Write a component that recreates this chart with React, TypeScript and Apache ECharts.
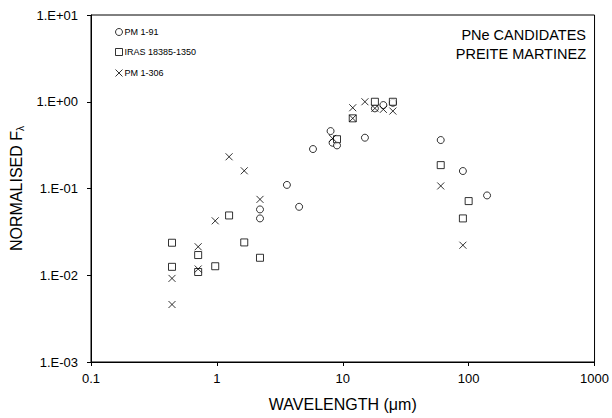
import React, { useEffect, useRef } from "react";
import * as echarts from "echarts";

const pm191X = [2.2, 2.2, 3.6, 4.5, 5.8, 8.0, 8.3, 9.0, 15, 18, 21, 25, 60, 90, 140];
const pm191Y = [0.0574, 0.0452, 0.11, 0.0615, 0.285, 0.459, 0.337, 0.314, 0.385, 0.839, 0.916, 0.973, 0.362, 0.159, 0.0832];

const irasX = [0.44, 0.44, 0.71, 0.71, 0.97, 1.25, 1.65, 2.2, 9.0, 12, 18, 25, 60, 90, 100];
const irasY = [0.0237, 0.0125, 0.0171, 0.0109, 0.0127, 0.0489, 0.0239, 0.0159, 0.37, 0.644, 1.0, 1.0, 0.186, 0.0452, 0.0716];

const pm1306X = [0.44, 0.44, 0.71, 0.71, 0.97, 1.25, 1.65, 2.2, 8.3, 12, 12, 15, 18, 21, 25, 60, 90];
const pm1306Y = [0.0092, 0.0046, 0.0213, 0.0118, 0.0424, 0.232, 0.16, 0.0749, 0.378, 0.853, 0.644, 1.0, 0.84, 0.817, 0.781, 0.107, 0.0222];

const seriesNames = ["PM 1-91", "IRAS 18385-1350", "PM 1-306"];
const titleLines = ["PNe CANDIDATES", "PREITE MARTINEZ"];

const zip = (xs: number[], ys: number[]) => xs.map((x, i) => [x, ys[i]]);

const FONT = "'Liberation Sans', Arial, sans-serif";
const CROSS = "path://M0,0L10,10M10,0L0,10";

export default function App() {
  const ref = useRef<HTMLDivElement>(null);
  useEffect(() => {
    document.body.style.margin = "0";
    const chart = echarts.init(ref.current!, null, { renderer: "svg" });
    const yFmt = (v: number) => {
      const e = Math.round(Math.log10(v));
      return "1.E" + (e < 0 ? "-" : "+") + String(Math.abs(e)).padStart(2, "0");
    };
    const xFmt = (v: number) => {
      const e = Math.round(Math.log10(v));
      return e < 0 ? "0.1" : String(Math.pow(10, e));
    };
    const hollow = { color: "#fff", borderColor: "#000", borderWidth: 1 };
    chart.setOption({
      animation: false,
      backgroundColor: "#fff",
      textStyle: { fontFamily: FONT },
      grid: {
        left: 91,
        right: 16,
        top: 15,
        bottom: 56,
        show: true,
        borderColor: "#000",
        borderWidth: 1,
        backgroundColor: "transparent",
      },
      legend: {
        orient: "vertical",
        left: 108,
        top: 22,
        itemWidth: 7,
        itemHeight: 7,
        itemGap: 10,
        data: seriesNames,
        itemStyle: { borderWidth: 1 },
        textStyle: { fontSize: 9, color: "#000", fontFamily: FONT, lineHeight: 10, padding: [0, 0, 0, -3] },
      },
      graphic: [
        {
          type: "text",
          x: 586,
          y: 25,
          style: {
            text: titleLines.join("\n"),
            align: "right",
            verticalAlign: "top",
            fontSize: 14.5,
            lineHeight: 19,
            fontFamily: FONT,
            fill: "#000",
          },
        },
      ],
      xAxis: {
        type: "log",
        logBase: 10,
        min: 0.1,
        max: 1000,
        name: "WAVELENGTH (μm)",
        nameLocation: "middle",
        nameGap: 34,
        nameTextStyle: { fontSize: 16, color: "#000", fontFamily: FONT },
        axisLine: { lineStyle: { color: "#000", width: 1 } },
        axisTick: { show: true, length: 4, lineStyle: { color: "#000" } },
        minorTick: { show: false },
        splitLine: { show: false },
        axisLabel: { fontSize: 13, color: "#000", margin: 10, formatter: xFmt, fontFamily: FONT },
      },
      yAxis: {
        type: "log",
        logBase: 10,
        min: 0.001,
        max: 10,
        name: "NORMALISED F{s|λ}",
        nameLocation: "middle",
        nameGap: 66,
        nameRotate: 90,
        nameTextStyle: {
          fontSize: 16,
          color: "#000",
          fontFamily: FONT,
          rich: { s: { fontSize: 10, color: "#000", fontFamily: FONT, verticalAlign: "bottom", padding: [7, 0, 0, 0] } },
        },
        axisLine: { show: true, lineStyle: { color: "#000", width: 1 } },
        axisTick: { show: true, length: 4, lineStyle: { color: "#000" } },
        splitLine: { show: false },
        axisLabel: { fontSize: 13, color: "#000", margin: 13, formatter: yFmt, fontFamily: FONT },
      },
      series: [
        {
          name: seriesNames[0],
          type: "scatter",
          symbol: "circle",
          symbolSize: 7,
          itemStyle: hollow,
          data: zip(pm191X, pm191Y),
        },
        {
          name: seriesNames[1],
          type: "scatter",
          symbol: "rect",
          symbolSize: 7,
          itemStyle: hollow,
          data: zip(irasX, irasY),
        },
        {
          name: seriesNames[2],
          type: "scatter",
          symbol: CROSS,
          symbolSize: 7,
          itemStyle: { color: "none", borderColor: "#000", borderWidth: 1 },
          data: zip(pm1306X, pm1306Y),
        },
      ],
    });
    return () => chart.dispose();
  }, []);
  return <div ref={ref} style={{ width: 612, height: 418 }} />;
}
